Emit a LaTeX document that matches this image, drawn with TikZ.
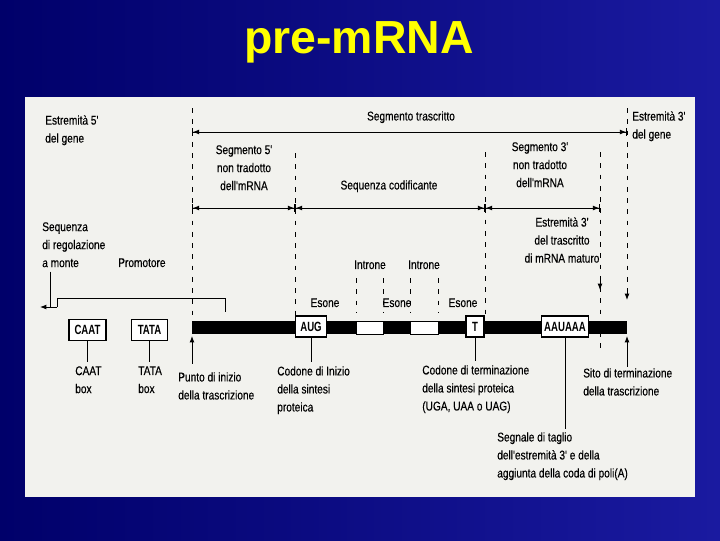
\documentclass[tikz,border=0pt]{standalone}
\usepackage{fontspec}
\setmainfont{Liberation Sans}
\newfontfamily\figfont{Liberation Sans}[FakeStretch=0.8, FakeBold=0.3]
\newfontfamily\boxfont{Liberation Sans}[FakeStretch=0.72]
\usetikzlibrary{positioning, arrows.meta}
\definecolor{slidedark}{HTML}{00006A}
\definecolor{slidelight}{HTML}{1A1AA0}
\definecolor{paper}{HTML}{F2F2EE}
\definecolor{titleyellow}{HTML}{FFFF00}

\begin{document}
\begin{tikzpicture}[x=0.025cm, y=-0.025cm,
    txt/.style={font=\figfont\fontsize{9}{12.8}\selectfont, inner sep=0pt, align=left, anchor=north west},
    ctxt/.style={txt, align=center, anchor=north},
    seqbox/.style={draw, fill=white, line width=0.9pt, inner sep=0pt, minimum height=15pt, font=\boxfont\bfseries\fontsize{9.5}{10}\selectfont},
    guide/.style={line width=0.7pt, dash pattern=on 3.5pt off 4.5pt},
    span/.style={line width=0.6pt, {Bar[width=5pt]Latex[length=4.5pt, width=3.5pt]}-{Latex[length=4.5pt, width=3.5pt]Bar[width=5pt]}},
    ptr/.style={line width=0.7pt, -{Latex[length=4.5pt, width=3.5pt]}},
    tick/.style={line width=0.7pt},
  ]
  % slide
  \shade[left color=slidedark, right color=slidelight] (0,0) rectangle (720,540);
  \useasboundingbox (0,0) rectangle (720,540);
  \node[font=\bfseries\fontsize{33}{36}\selectfont, text=titleyellow, anchor=base] (title) at (359,53) {pre-mRNA};
  \fill[paper] (25,97) rectangle (695,497);

  % dashed guides
  \draw[guide] (192,108) -- (192,316);
  \draw[guide] (295,153) -- (295,316);
  \draw[guide] (485,152) -- (485,316);
  \draw[guide] (600,152) -- (600,350);
  \draw[guide] (627,108) -- (627,296);
  \draw[ptr] (600,280) -- (600,290);
  \draw[ptr] (627,290) -- (627,300);
  \foreach \gx in {356,383,410,438}
    \draw[guide] (\gx,278) -- (\gx,313);

  % spans
  \coordinate (tr5) at (192,132);
  \coordinate (tr3) at (627,132);
  \coordinate (utr5) at (192,208);
  \coordinate (cds5) at (295,208);
  \coordinate (cds3) at (485,208);
  \coordinate (utr3) at (600,208);
  \draw[span] (tr5) -- (tr3);
  \draw[span] (utr5) -- (cds5);
  \draw[span] (cds5) -- (cds3);
  \draw[span] (cds3) -- (utr3);

  % strand
  \fill (192,321) rectangle (627,334);
  \draw[fill=white, line width=0.6pt] (356,321) rectangle (383,334);
  \draw[fill=white, line width=0.6pt] (410,321) rectangle (438,334);

  \node[seqbox, minimum width=0.92cm] (caat) at (87.5,330) {CAAT};
  \node[seqbox, minimum width=0.9cm] (tata) at (149.5,330) {TATA};
  \node[seqbox, minimum width=0.78cm] (aug) at (311,326.5) {AUG};
  \node[seqbox, minimum width=0.45cm] (stop) at (475,326.5) {T};
  \node[seqbox, minimum width=1.17cm] (polya) at (565,326.5) {AAUAAA};

  % upper labels
  \node[txt] (gene5) at (45,115) {Estremità 5'\\del gene};
  \node[ctxt] (trlbl) at (411,111) {Segmento trascritto};
  \node[txt] (gene3) at (632,111) {Estremità 3'\\del gene};
  \node[ctxt] (utr5lbl) at (244,145) {Segmento 5'\\non tradotto\\dell'mRNA};
  \node[ctxt] (cdslbl) at (389,180) {Sequenza codificante};
  \node[ctxt] (utr3lbl) at (540,142) {Segmento 3'\\non tradotto\\dell'mRNA};
  \node[ctxt] (mature) at (562,217) {Estremità 3'\\del trascritto\\di mRNA maturo};
  \node[txt] (upstream) at (42,222) {Sequenza\\di regolazione\\a monte};
  \node[txt] (promlbl) at (118,258) {Promotore};
  \node[ctxt] (intr1) at (370,260) {Introne};
  \node[ctxt] (intr2) at (424,260) {Introne};
  \node[ctxt] (ex1) at (325,298) {Esone};
  \node[ctxt] (ex2) at (397,298) {Esone};
  \node[ctxt] (ex3) at (463,298) {Esone};

  % lower labels
  \node[txt] (caatlbl) at (75,366) {CAAT\\box};
  \node[txt] (tatalbl) at (138,366) {TATA\\box};
  \node[txt] (startlbl) at (178,372) {Punto di inizio\\della trascrizione};
  \node[txt] (auglbl) at (277,366) {Codone di Inizio\\della sintesi\\proteica};
  \node[txt] (stoplbl) at (422,365) {Codone di terminazione\\della sintesi proteica\\(UGA, UAA o UAG)};
  \node[txt] (termlbl) at (583,368) {Sito di terminazione\\della trascrizione};
  \node[txt] (polylbl) at (497,432) {Segnale di taglio\\dell'estremità 3' e della\\aggiunta della coda di poli(A)};

  % promoter and upstream region
  \coordinate (regend) at (50,307);
  \coordinate (promL) at (57,307);
  \coordinate (promR) at (225,312);
  \draw[tick, shorten <=3pt] (regend |- upstream.south) -- (regend);
  \draw[tick] (promL) -- ++(0,-9) -| (promR);
  \draw[ptr] (promL) -- ++(-17,0);

  % pointers to the strand
  \coordinate (tss) at (192,336);
  \coordinate (tes) at (627,336);
  \draw[ptr, shorten <=6pt] (tss |- startlbl.north) -- (tss);
  \draw[ptr, shorten <=1pt] (tes |- termlbl.north) -- (tes);
  \draw[tick, shorten >=3pt] (caat.south) -- (caat.south |- caatlbl.north);
  \draw[tick, shorten >=3pt] (tata.south) -- (tata.south |- tatalbl.north);
  \draw[tick, shorten >=3pt] (aug.south) -- (aug.south |- auglbl.north);
  \draw[tick, shorten >=3pt] (stop.south) -- (stop.south |- stoplbl.north);
  \draw[tick, shorten >=2pt] (polya.south) -- (polya.south |- polylbl.north);
\end{tikzpicture}
\end{document}
